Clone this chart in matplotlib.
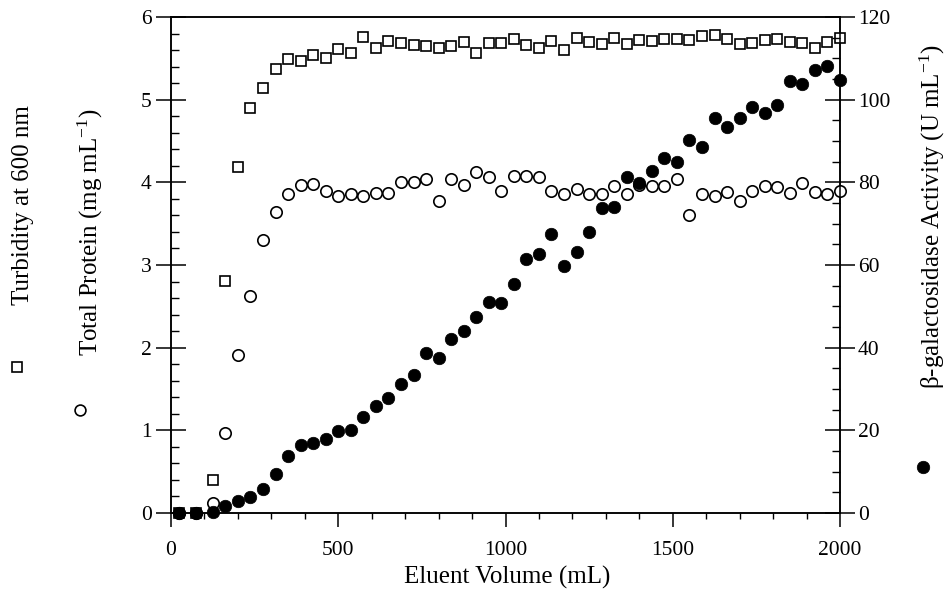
import matplotlib
matplotlib.use("Agg")
import matplotlib.pyplot as plt
from matplotlib.lines import Line2D
from matplotlib.ticker import MultipleLocator

plt.rcParams['font.family'] = ['Liberation Serif', 'DejaVu Serif']
plt.rcParams['mathtext.fontset'] = 'custom'
plt.rcParams['mathtext.rm'] = 'Liberation Serif'
plt.rcParams['mathtext.it'] = 'Liberation Serif:italic'

# Eluent volume (mL)
volume = [25, 75, 125, 162.5, 200, 237.5, 275, 312.5, 350, 387.5, 425, 462.5,
          500, 537.5, 575, 612.5, 650, 687.5, 725, 762.5, 800, 837.5, 875,
          912.5, 950, 987.5, 1025, 1062.5, 1100, 1137.5, 1175, 1212.5, 1250,
          1287.5, 1325, 1362.5, 1400, 1437.5, 1475, 1512.5, 1550, 1587.5,
          1625, 1662.5, 1700, 1737.5, 1775, 1812.5, 1850, 1887.5, 1925,
          1962.5, 2000]

# Turbidity at 600 nm (open squares, left axis)
turbidity = [0.0, 0.0, 0.40, 2.81, 4.18, 4.90, 5.14, 5.37, 5.49, 5.47, 5.54,
             5.51, 5.61, 5.57, 5.76, 5.62, 5.71, 5.69, 5.66, 5.65, 5.62, 5.65,
             5.70, 5.57, 5.69, 5.69, 5.73, 5.66, 5.63, 5.71, 5.60, 5.75, 5.70,
             5.67, 5.74, 5.67, 5.72, 5.71, 5.73, 5.73, 5.72, 5.77, 5.78, 5.73,
             5.67, 5.68, 5.72, 5.73, 5.70, 5.68, 5.62, 5.70, 5.75]

# Total protein (open circles, left axis)
protein = [0.0, 0.0, 0.12, 0.97, 1.91, 2.63, 3.30, 3.64, 3.86, 3.97, 3.98,
           3.90, 3.83, 3.86, 3.83, 3.87, 3.87, 4.00, 4.00, 4.04, 3.78, 4.04,
           3.97, 4.12, 4.06, 3.90, 4.08, 4.08, 4.06, 3.90, 3.86, 3.92, 3.86,
           3.86, 3.96, 3.86, 3.97, 3.96, 3.95, 4.04, 3.60, 3.86, 3.84, 3.88,
           3.77, 3.90, 3.95, 3.94, 3.87, 3.99, 3.88, 3.86, 3.90]

# beta-galactosidase activity (filled circles, right axis)
activity = [0.0, 0.0, 0.3, 1.7, 2.8, 3.9, 5.9, 9.4, 13.9, 16.5, 17.0, 17.9,
            19.9, 20.2, 23.2, 26.0, 27.9, 31.1, 33.5, 38.7, 37.6, 42.1, 44.0,
            47.3, 51.0, 50.7, 55.5, 61.4, 62.7, 67.4, 59.8, 63.1, 67.9, 73.7,
            74.0, 81.2, 79.8, 82.8, 85.9, 84.9, 90.2, 88.5, 95.6, 93.4, 95.6,
            98.2, 96.7, 98.6, 104.5, 103.8, 107.2, 108.1, 104.8]

fig = plt.figure(figsize=(9.45, 5.91), dpi=100)
ax = fig.add_axes([171/945, 78/591, 669/945, 496/591])
ax2 = ax.twinx()

ax.plot(volume, turbidity, linestyle='none', marker='s', ms=7.8,
        mfc='white', mec='black', mew=1.2, clip_on=False, zorder=3)
ax.plot(volume, protein, linestyle='none', marker='o', ms=8.2,
        mfc='white', mec='black', mew=1.2, clip_on=False, zorder=4)
ax2.plot(volume, activity, linestyle='none', marker='o', ms=9.0,
         mfc='black', mec='black', mew=0.5, clip_on=False, zorder=5)

ax.set_xlim(0, 2000)
ax.set_ylim(0, 6)
ax2.set_ylim(0, 120)

ax.xaxis.set_major_locator(MultipleLocator(500))
ax.xaxis.set_minor_locator(MultipleLocator(100))
ax.yaxis.set_major_locator(MultipleLocator(1))
ax.yaxis.set_minor_locator(MultipleLocator(0.2))
ax2.yaxis.set_major_locator(MultipleLocator(20))
ax2.yaxis.set_minor_locator(MultipleLocator(5))

for a in (ax, ax2):
    for s in a.spines.values():
        s.set_linewidth(1.1)

ax.tick_params(axis='x', which='major', direction='out', length=10, width=1.1,
               labelsize=15.5, pad=10, top=False)
ax.tick_params(axis='x', which='minor', direction='out', length=4.3, width=1.0,
               top=False)
ax.tick_params(axis='y', which='major', direction='inout', length=22, width=1.1,
               labelsize=15.5, pad=3, right=False)
ax.tick_params(axis='y', which='minor', direction='in', length=6, width=1.0,
               right=False)
ax2.tick_params(axis='y', which='major', direction='inout', length=22, width=1.1,
                labelsize=15.5, pad=2, left=False)
ax2.tick_params(axis='y', which='minor', direction='in', length=6, width=1.0,
                left=False)

W, H = 945, 591
fig.text(507/W, 1 - 577/H, 'Eluent Volume (mL)', ha='center', va='center',
         fontsize=18)
fig.text(23/W, 1 - 205/H, 'Turbidity at 600 nm', rotation=90, ha='center',
         va='center', fontsize=18)
fig.text(90/W, 1 - 232/H, r'Total Protein (mg mL$^{-1}$)', rotation=90,
         ha='center', va='center', fontsize=18)
fig.text(932/W, 1 - 217/H, r'$\mathregular{\beta}$-galactosidase Activity (U mL$^{-1}$)',
         rotation=90, ha='center', va='center', fontsize=18)

fig.add_artist(Line2D([17/W], [1 - 367/H], transform=fig.transFigure,
                      marker='s', ms=7.8, mfc='white', mec='black', mew=1.2))
fig.add_artist(Line2D([80/W], [1 - 410/H], transform=fig.transFigure,
                      marker='o', ms=7.8, mfc='white', mec='black', mew=1.2))
fig.add_artist(Line2D([923/W], [1 - 467/H], transform=fig.transFigure,
                      marker='o', ms=9.0, mfc='black', mec='black', mew=0.5))

fig.savefig('out.png', dpi=100)
